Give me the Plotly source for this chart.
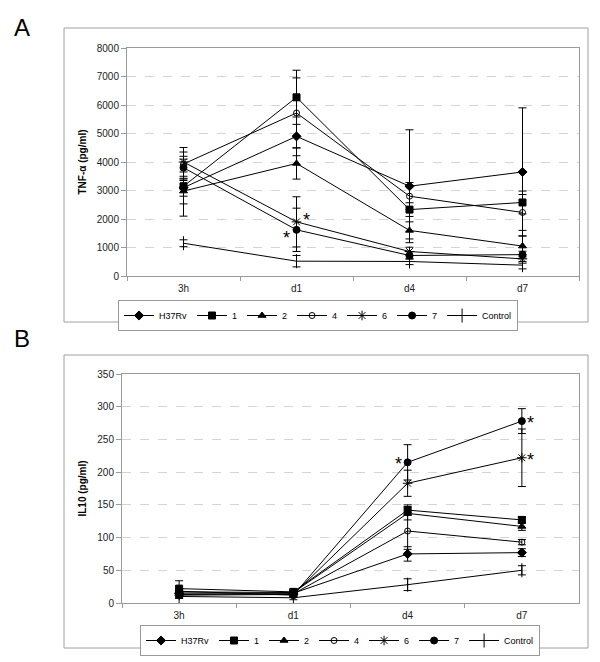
import plotly.graph_objects as go

W, H = 600, 662
times = ["3h", "d1", "d4", "d7"]
series = ["H37Rv", "1", "2", "4", "6", "7", "Control"]

# Panel A: TNF-alpha (pg/ml)
tnf_h37rv = [3100, 4900, 3150, 3650]
tnf_1 = [3150, 6270, 2330, 2580]
tnf_2 = [2980, 3950, 1600, 1050]
tnf_4 = [3930, 5720, 2800, 2230]
tnf_6 = [4000, 1900, 860, 600]
tnf_7 = [3800, 1620, 720, 750]
tnf_ctrl = [1150, 520, 510, 380]

tnf_err_h37rv = [300, 680, 1980, 2250]
tnf_err_1 = [1050, 950, 240, 400]
tnf_err_2 = [450, 550, 300, 360]
tnf_err_4 = [580, 1230, 480, 630]
tnf_err_6 = [350, 880, 150, 150]
tnf_err_7 = [300, 760, 130, 120]
tnf_err_ctrl = [120, 200, 110, 130]

# Panel B: IL10 (pg/ml)
il_h37rv = [15, 15, 75, 77]
il_1 = [22, 17, 142, 127]
il_2 = [17, 16, 137, 117]
il_4 = [13, 14, 110, 93]
il_6 = [12, 13, 183, 222]
il_7 = [18, 12, 215, 278]
il_ctrl = [10, 8, 28, 50]

il_err_h37rv = [4, 3, 11, 6]
il_err_1 = [12, 4, 8, 5]
il_err_2 = [4, 3, 10, 6]
il_err_4 = [4, 3, 28, 4]
il_err_6 = [4, 3, 20, 44]
il_err_7 = [4, 3, 27, 19]
il_err_ctrl = [3, 3, 9, 7]

tnf_vals = [tnf_h37rv, tnf_1, tnf_2, tnf_4, tnf_6, tnf_7, tnf_ctrl]
tnf_errs = [tnf_err_h37rv, tnf_err_1, tnf_err_2, tnf_err_4, tnf_err_6, tnf_err_7, tnf_err_ctrl]
il_vals = [il_h37rv, il_1, il_2, il_4, il_6, il_7, il_ctrl]
il_errs = [il_err_h37rv, il_err_1, il_err_2, il_err_4, il_err_6, il_err_7, il_err_ctrl]

symbols = ["diamond", "square", "triangle-up", "circle-open", "asterisk-open", "circle", "line-ns-open"]
sizes = [7, 7, 7, 6, 8, 7, 10]

FONT = "Liberation Sans, Arial, sans-serif"

fig = go.Figure()

def add_panel(vals, errs, xa, ya, legend):
    for name, v, e, s, sz in zip(series, vals, errs, symbols, sizes):
        fig.add_trace(go.Scatter(
            x=times, y=v, name=name, mode="lines+markers",
            xaxis=xa, yaxis=ya, legend=legend,
            line=dict(color="black", width=1),
            marker=dict(symbol=s, size=sz, color="black",
                        line=dict(color="black", width=1)),
            error_y=dict(type="data", array=e, visible=True,
                         color="black", thickness=1, width=4),
        ))

add_panel(tnf_vals, tnf_errs, "x", "y", "legend")
add_panel(il_vals, il_errs, "x2", "y2", "legend2")

def px_x(p):
    return p / W

def px_y(p):
    return 1 - p / H

axis_common = dict(showline=True, linecolor="#9a9a9a", linewidth=1, mirror=True,
                   automargin=False,
                   tickfont=dict(family=FONT, size=10, color="#222"))

xa_common = dict(axis_common, type="category", tickson="boundaries", ticks="outside",
                 ticklen=4, tickcolor="#9a9a9a", showgrid=False, range=[-0.5, 3.5],
                 ticklabelstandoff=3)

ya_common = dict(axis_common, ticks="outside", ticklen=5, tickcolor="#9a9a9a",
                 showgrid=True, gridcolor="#d4d4d4", griddash="dash", gridwidth=1,
                 zeroline=False)

fig.update_layout(
    template="none",
    width=W, height=H,
    margin=dict(l=0, r=0, t=0, b=0, pad=0),
    paper_bgcolor="white", plot_bgcolor="white",
    font=dict(family=FONT, color="black"),
    xaxis=dict(xa_common, domain=[px_x(127), px_x(579)], anchor="y"),
    yaxis=dict(ya_common, domain=[px_y(276), px_y(48)], anchor="x",
               range=[0, 8000], dtick=1000,
               title=dict(text="<b>TNF-α (pg/ml)</b>", font=dict(size=10, family=FONT), standoff=8)),
    xaxis2=dict(xa_common, domain=[px_x(122), px_x(579)], anchor="y2"),
    yaxis2=dict(ya_common, domain=[px_y(603), px_y(374)], anchor="x2",
                range=[0, 350], dtick=50,
                title=dict(text="<b>IL10 (pg/ml)</b>", font=dict(size=10, family=FONT), standoff=8)),
    legend=dict(orientation="h", x=px_x(318), y=px_y(300), xanchor="center", yanchor="top",
                bordercolor="#999", borderwidth=1, bgcolor="white",
                font=dict(size=9, family=FONT), itemwidth=30, tracegroupgap=0),
    legend2=dict(orientation="h", x=px_x(340), y=px_y(625), xanchor="center", yanchor="top",
                 bordercolor="#999", borderwidth=1, bgcolor="white",
                 font=dict(size=9, family=FONT), itemwidth=30, tracegroupgap=0),
    showlegend=True,
)

# outer panel frames
for (x0, y0, x1, y1) in [(64, 28, 588, 322), (64, 355, 588, 648)]:
    fig.add_shape(type="rect", xref="paper", yref="paper",
                  x0=px_x(x0), x1=px_x(x1), y0=px_y(y1), y1=px_y(y0),
                  line=dict(color="#a0a0a0", width=1), fillcolor="rgba(0,0,0,0)", layer="below")

# panel letters
fig.add_annotation(text="A", xref="paper", yref="paper", x=px_x(22), y=px_y(27),
                   xanchor="center", yanchor="middle",
                   showarrow=False, font=dict(size=24, family=FONT, color="black"))
fig.add_annotation(text="B", xref="paper", yref="paper", x=px_x(22), y=px_y(338),
                   xanchor="center", yanchor="middle",
                   showarrow=False, font=dict(size=24, family=FONT, color="black"))

# significance asterisks
stars = [
    ("x", "y", "d1", tnf_6[1], 10, 2),
    ("x", "y", "d1", tnf_7[1], -10, -8),
    ("x2", "y2", "d4", il_7[2], -9, -2),
    ("x2", "y2", "d7", il_7[3], 9, -2),
    ("x2", "y2", "d7", il_6[3], 9, -2),
]
for xr, yr, xv, yv, dx, dy in stars:
    fig.add_annotation(text="*", xref=xr, yref=yr, x=xv, y=yv, xshift=dx, yshift=dy,
                       xanchor="center", yanchor="middle",
                       showarrow=False, font=dict(size=18, family=FONT, color="black"))

fig.write_html("out.html", config={"displayModeBar": False},
               post_script="document.body.style.margin='0px';")
